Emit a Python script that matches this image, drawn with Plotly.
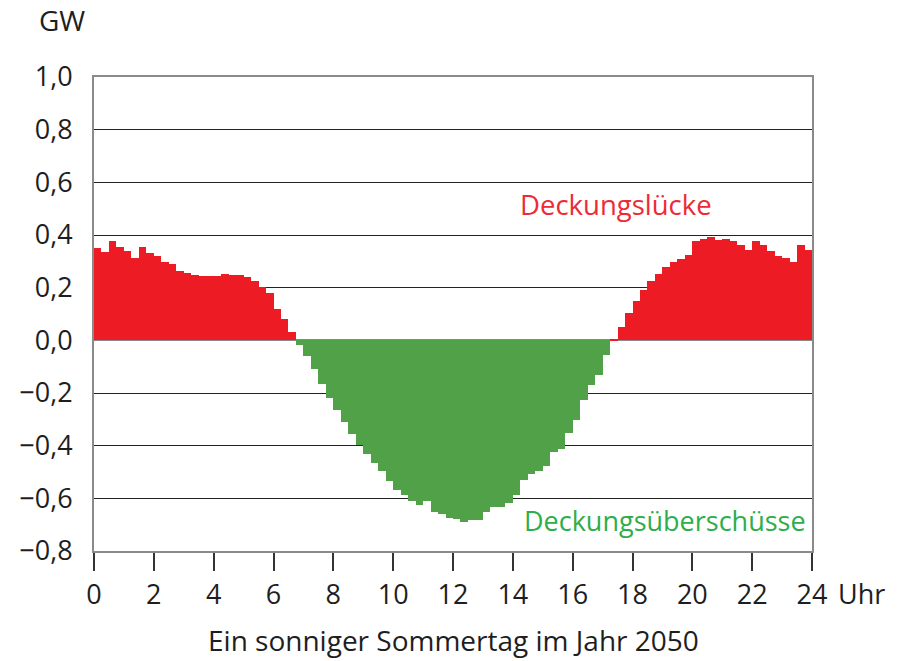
import numpy as np
import plotly.graph_objects as go

# Net balance per quarter hour (GW): positive = Deckungslücke, negative = Deckungsüberschüsse
netto_gw = [
    0.352, 0.334, 0.377, 0.356, 0.340, 0.314, 0.355, 0.333,
    0.322, 0.298, 0.290, 0.265, 0.256, 0.248, 0.245, 0.244,
    0.246, 0.251, 0.248, 0.248, 0.239, 0.226, 0.204, 0.181,
    0.118, 0.082, 0.030, -0.018, -0.061, -0.110, -0.165, -0.218,
    -0.265, -0.309, -0.356, -0.396, -0.433, -0.467, -0.498, -0.533,
    -0.567, -0.589, -0.610, -0.626, -0.610, -0.653, -0.659, -0.675,
    -0.680, -0.689, -0.683, -0.683, -0.652, -0.632, -0.632, -0.617,
    -0.586, -0.531, -0.508, -0.498, -0.478, -0.424, -0.414, -0.352,
    -0.301, -0.226, -0.168, -0.130, -0.055, 0.006, 0.052, 0.104,
    0.150, 0.190, 0.224, 0.251, 0.278, 0.297, 0.307, 0.323,
    0.377, 0.383, 0.392, 0.382, 0.386, 0.377, 0.361, 0.344,
    0.377, 0.363, 0.340, 0.319, 0.312, 0.297, 0.363, 0.342,
]
stunden = np.arange(len(netto_gw)) * 0.25 + 0.125

x_ticks = [0, 2, 4, 6, 8, 10, 12, 14, 16, 18, 20, 22, 24]
x_labels = [str(v) for v in x_ticks]
y_ticks = [1.0, 0.8, 0.6, 0.4, 0.2, 0.0, -0.2, -0.4, -0.6, -0.8]
y_labels = ["1,0", "0,8", "0,6", "0,4", "0,2", "0,0", "−0,2", "−0,4", "−0,6", "−0,8"]

RED = "#ED1C24"
GREEN = "#50A148"
FONT = "Open Sans"
TXT = "#1e1e1e"

colors = [RED if v >= 0 else GREEN for v in netto_gw]

fig = go.Figure()
fig.add_trace(go.Bar(
    x=stunden, y=netto_gw, width=0.25,
    marker=dict(color=colors, line=dict(width=0)),
    hoverinfo="x+y",
))

fig.update_layout(
    width=906, height=661,
    margin=dict(l=94, r=94, t=77, b=110),
    plot_bgcolor="white", paper_bgcolor="white",
    bargap=0, showlegend=False,
    font=dict(family=FONT, size=24, color=TXT),
    xaxis=dict(
        range=[0, 24], tickvals=x_ticks, ticktext=x_labels,
        showgrid=False, zeroline=False,
        showline=True, linecolor="#8a8a8a", linewidth=2, mirror=True,
        ticks="outside", ticklen=18, tickcolor="#333333", tickwidth=1.5,
        tickfont=dict(family=FONT, size=27, color=TXT),
        ticklabelstandoff=1,
    ),
    yaxis=dict(
        range=[-0.8, 1.0], tickvals=y_ticks, ticktext=y_labels,
        showgrid=True, gridcolor="#222222", gridwidth=1,
        zeroline=True, zerolinecolor="#8a8a8a", zerolinewidth=2,
        showline=True, linecolor="#8a8a8a", linewidth=2, mirror=True,
        ticks="", tickfont=dict(family=FONT, size=27, color=TXT),
        ticklabelstandoff=14,
    ),
    annotations=[
        dict(text="GW", xref="paper", yref="paper", x=-0.0446, y=1.12,
             xanchor="center", yanchor="middle", showarrow=False,
             font=dict(family=FONT, size=28, color=TXT)),
        dict(text="Uhr", xref="paper", yref="paper", x=1.034, y=-0.0907,
             xanchor="left", yanchor="middle", showarrow=False,
             font=dict(family=FONT, size=27, color=TXT)),
        dict(text="Ein sonniger Sommertag im Jahr 2050", xref="paper", yref="paper",
             x=0.5, y=-0.188, xanchor="center", yanchor="middle", showarrow=False,
             font=dict(family=FONT, size=28, color=TXT)),
        dict(text="Deckungslücke", xref="x", yref="y", x=17.45, y=0.514,
             xanchor="center", yanchor="middle", showarrow=False,
             font=dict(family=FONT, size=27.5, color="#EE2A36")),
        dict(text="Deckungsüberschüsse", xref="x", yref="y", x=19.07, y=-0.686,
             xanchor="center", yanchor="middle", showarrow=False,
             font=dict(family=FONT, size=27, color="#2DAE4A")),
    ],
)

fig.write_html("out.html", config={"displayModeBar": False},
               post_script="document.body.style.margin='0';")
